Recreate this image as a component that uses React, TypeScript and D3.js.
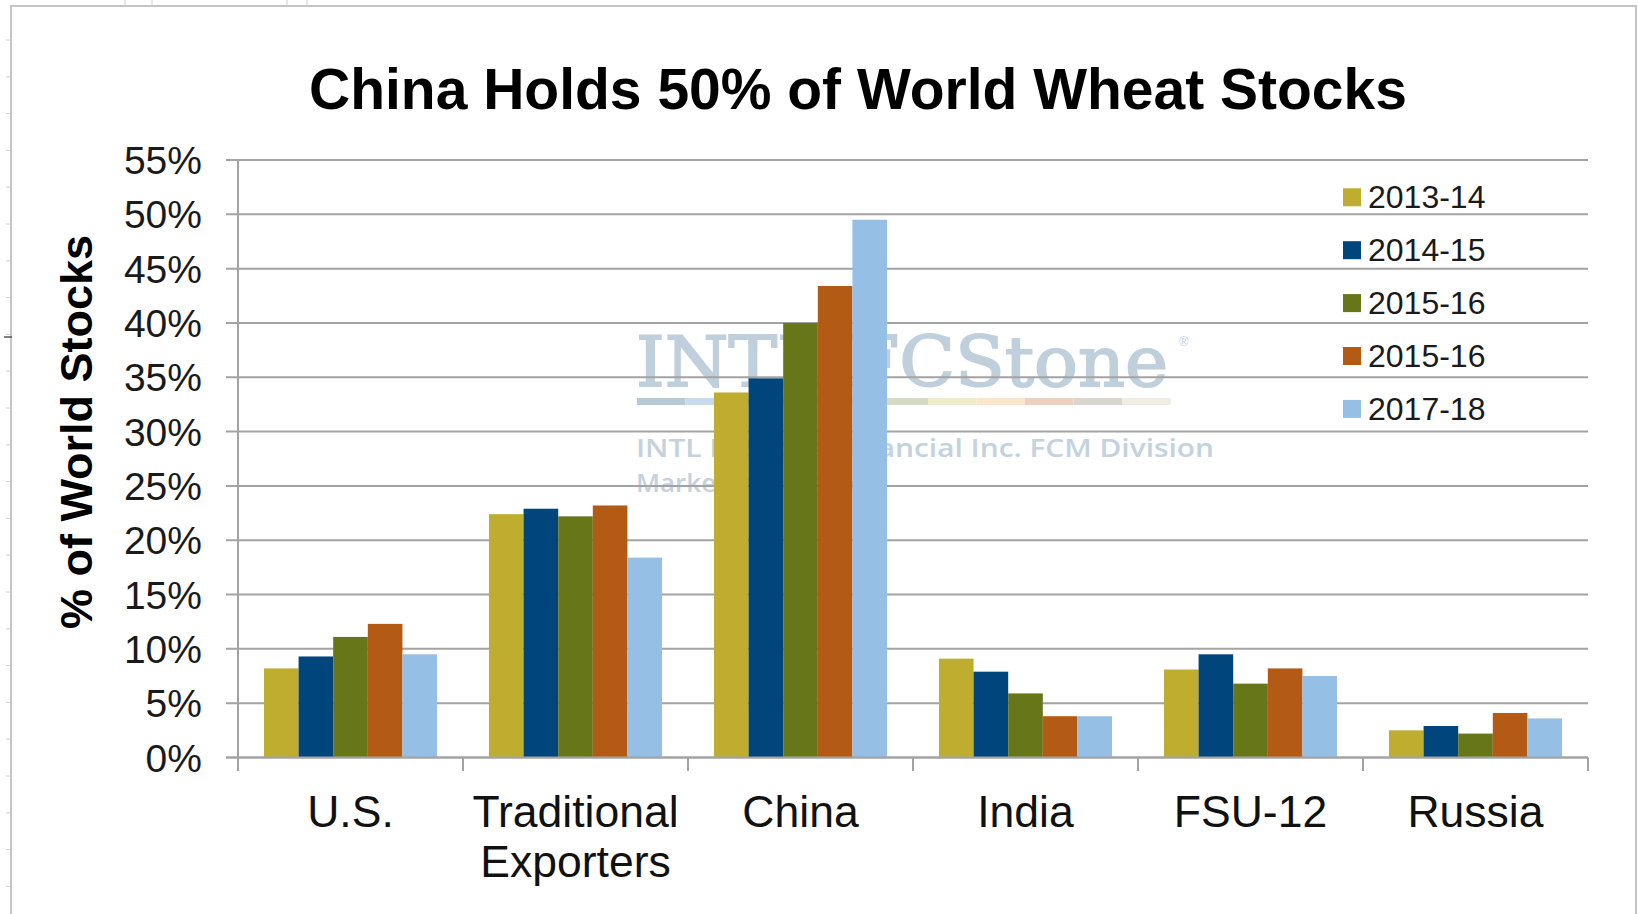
import React from "react";
import * as d3 from "d3";

const categories = ["U.S.", "Traditional Exporters", "China", "India", "FSU-12", "Russia"];
const categoryLabelLines = [["U.S."], ["Traditional", "Exporters"], ["China"], ["India"], ["FSU-12"], ["Russia"]];
const seriesNames = ["2013-14", "2014-15", "2015-16", "2015-16", "2017-18"];
const seriesColors = ["#BFAD2F", "#00457C", "#68761A", "#B35A14", "#96BFE5"];
const s2013 = [8.2, 22.4, 33.6, 9.1, 8.1, 2.5];
const s2014 = [9.3, 22.9, 34.9, 7.9, 9.5, 2.9];
const s2015 = [11.1, 22.2, 40.0, 5.9, 6.8, 2.2];
const s2016 = [12.3, 23.2, 43.4, 3.8, 8.2, 4.1];
const s2017 = [9.5, 18.4, 49.5, 3.8, 7.5, 3.6];
const seriesValues = [s2013, s2014, s2015, s2016, s2017];
const yTicks = [0, 5, 10, 15, 20, 25, 30, 35, 40, 45, 50, 55];
const stripeColors = ["#b7c8d6", "#c6dcee", "#cdd9e4", "#d6dcc8", "#e4e8d0", "#d3dcc2", "#efedc9", "#fde5cc", "#eecfc0", "#d9d5cf", "#eeeee4"];

const FONT = "'Liberation Sans', Arial, sans-serif";
const GRID = "#a3a3a3";

export default function App() {
  const left = 238, right = 1588, top = 160, bottom = 757.5;
  const x0 = d3.scaleBand<string>().domain(categories).range([left, right]).padding(0);
  const x1 = d3.scaleBand<number>().domain(seriesNames.map((_, i) => i)).range([0, x0.bandwidth()]).paddingInner(0).paddingOuter(0.75);
  const y = d3.scaleLinear().domain([0, 55]).range([bottom, top]);

  const leftTicks = d3.range(40, 900, 36.8);
  const topTicks = [125, 152, 287, 307];

  return (
    <svg width={1638} height={914} style={{ position: "absolute", left: 0, top: 0, display: "block", background: "#fff" }}>
      <rect x={0} y={0} width={1638} height={914} fill="#fff" />
      {/* outer frame */}
      <path d="M11,930 V6 H1636 V930" fill="none" stroke="#c4c4c4" strokeWidth={2} />
      {leftTicks.map((t, i) => (
        <line key={"lt" + i} x1={6} x2={11} y1={t} y2={t} stroke="#d0d0d0" strokeWidth={1} />
      ))}
      {topTicks.map((t, i) => (
        <line key={"tt" + i} x1={t} x2={t} y1={0} y2={6} stroke="#d0d0d0" strokeWidth={1} />
      ))}
      <line x1={4} x2={12} y1={337} y2={337} stroke="#555" strokeWidth={1.5} />

      {/* watermark */}
      <g>
        <text x={636} y={386} fontFamily="'DejaVu Serif', serif" fontWeight="normal" fontSize={70} fill="#bfcfdc" stroke="#bfcfdc" strokeWidth={1.8} textLength={532} lengthAdjust="spacingAndGlyphs">INTL FCStone</text>
        <text x={1179} y={346} fontFamily={FONT} fontSize={13} fill="#c2d1dd">®</text>
        {stripeColors.map((c, i) => (
          <rect key={"st" + i} x={637 + i * 48.5} y={398} width={48.5} height={7} fill={c} />
        ))}
        <text x={636} y={457} fontFamily="'Open Sans', sans-serif" fontWeight="600" fontSize={26} fill="#c3d2dd" textLength={578} lengthAdjust="spacingAndGlyphs">INTL FCStone Financial Inc. FCM Division</text>
        <text x={636} y={492} fontFamily="'Open Sans', sans-serif" fontWeight="600" fontSize={26} fill="#c3d2dd">Market Intelligence</text>
      </g>

      {/* gridlines */}
      {yTicks.map((t) => (
        <line key={"g" + t} x1={226} x2={right} y1={y(t)} y2={y(t)} stroke={GRID} strokeWidth={2} />
      ))}
      {/* y axis */}
      <line x1={left} x2={left} y1={top} y2={771} stroke={GRID} strokeWidth={2} />
      {/* category ticks */}
      {d3.range(categories.length + 1).map((i) => {
        const xx = left + i * x0.step();
        return <line key={"ct" + i} x1={xx} x2={xx} y1={bottom} y2={771} stroke={GRID} strokeWidth={2} />;
      })}

      {/* bars */}
      {categories.map((cat, ci) => (
        <g key={cat} transform={`translate(${x0(cat)},0)`}>
          {seriesValues.map((vals, si) => (
            <rect key={si} x={x1(si)} y={y(vals[ci])} width={x1.bandwidth()} height={y(0) - y(vals[ci])} fill={seriesColors[si]} />
          ))}
        </g>
      ))}
      <line x1={226} x2={right} y1={bottom} y2={bottom} stroke={GRID} strokeWidth={2} />

      {/* y tick labels */}
      {yTicks.map((t) => (
        <text key={"yl" + t} x={202} y={y(t) + 14} textAnchor="end" fontFamily={FONT} fontSize={39} fill="#1a1a1a">{t}%</text>
      ))}

      {/* category labels */}
      {categories.map((cat, ci) => (
        <text key={"cl" + cat} textAnchor="middle" fontFamily={FONT} fontSize={44.5} fill="#111">
          {categoryLabelLines[ci].map((ln, li) => (
            <tspan key={li} x={(x0(cat) as number) + x0.bandwidth() / 2} y={826.7 + li * 50}>{ln}</tspan>
          ))}
        </text>
      ))}

      {/* y axis title */}
      <text transform="translate(92,432) rotate(-90)" textAnchor="middle" fontFamily={FONT} fontWeight="bold" fontSize={45} fill="#000">% of World Stocks</text>

      {/* title */}
      <text x={858} y={109} textAnchor="middle" fontFamily={FONT} fontWeight="bold" fontSize={57} fill="#000">China Holds 50% of World Wheat Stocks</text>

      {/* legend */}
      {seriesNames.map((n, i) => {
        const cy = 197.3 + i * 52.9;
        return (
          <g key={"lg" + i}>
            <rect x={1343} y={cy - 9} width={18} height={18} fill={seriesColors[i]} />
            <text x={1368} y={cy + 11} fontFamily={FONT} fontSize={32} fill="#1a1a1a">{n}</text>
          </g>
        );
      })}
    </svg>
  );
}
